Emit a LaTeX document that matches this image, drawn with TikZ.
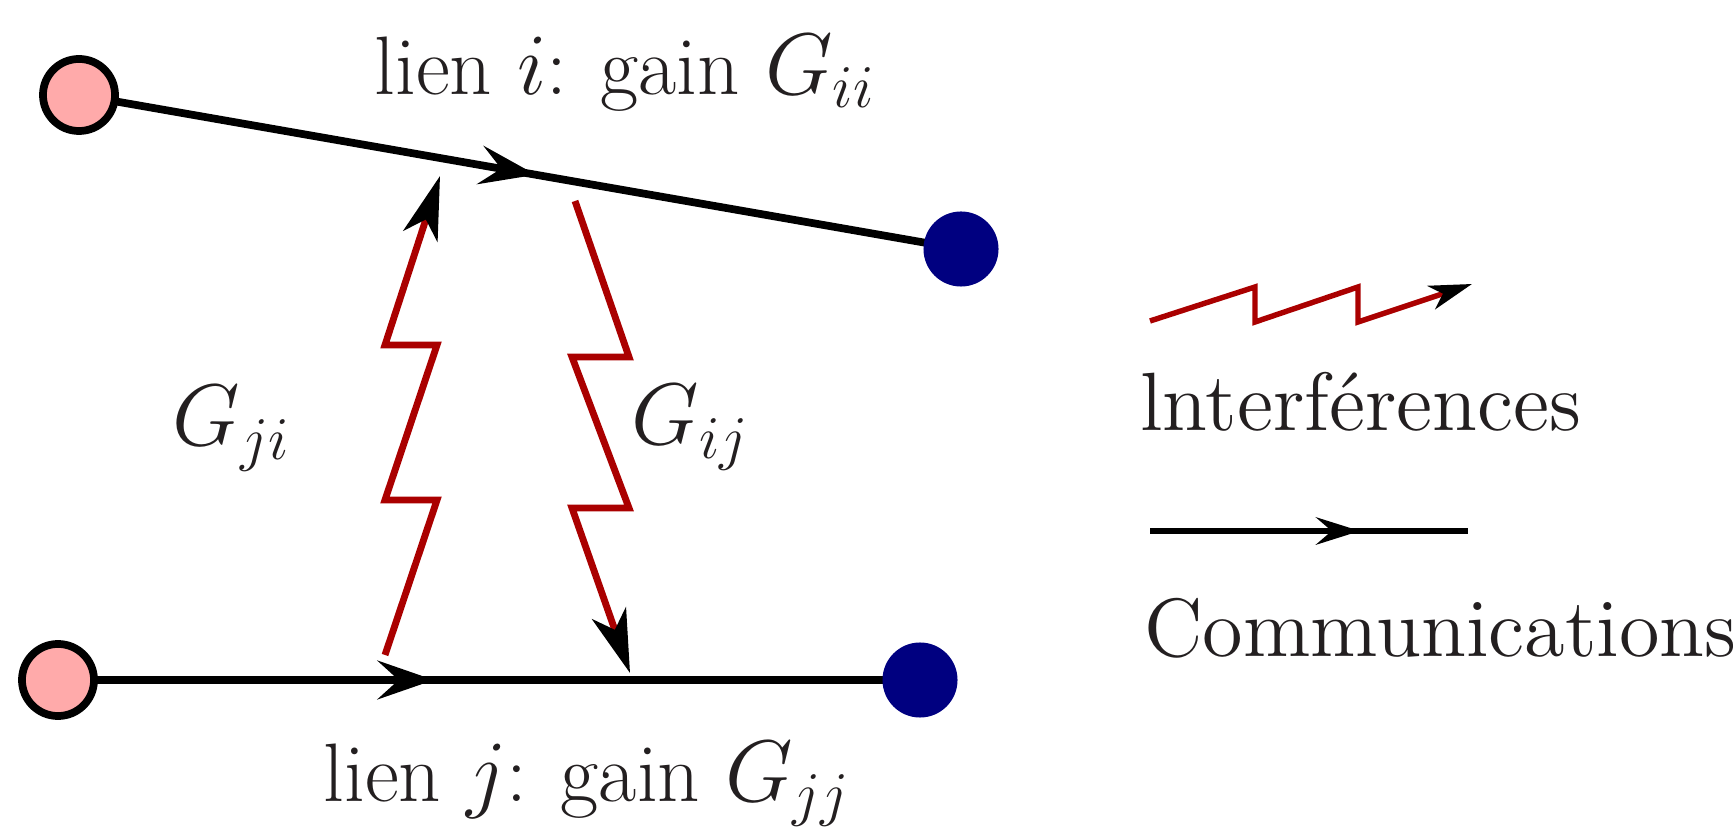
\documentclass[tikz,border=0pt]{standalone}
\usetikzlibrary{arrows.meta,decorations.markings}
\definecolor{pinkfill}{RGB}{255,170,170}
\definecolor{navyfill}{RGB}{0,0,128}
\definecolor{redline}{RGB}{170,0,0}
\definecolor{textcol}{RGB}{35,31,32}
\tikzset{
  mainhead/.tip={Stealth[length=16pt,width=11pt,inset=6pt]},
  zighead/.tip={Stealth[length=18pt,width=10.2pt,inset=5pt,black]},
  leghead/.tip={Stealth[length=12.5pt,width=7.8pt,inset=4.5pt]},
  legzighead/.tip={Stealth[length=12.2pt,width=7pt,inset=3.5pt,black]},
}
\begin{document}
\begin{tikzpicture}[x=0.01cm,y=-0.01cm,
  tx/.style={inner sep=0pt, anchor=base west, text=textcol, font=\fontsize{23.6}{28}\selectfont},
  legtx/.style={inner sep=0pt, anchor=base west, text=textcol, font=\fontsize{12}{14}\selectfont, scale=1.96},
  src/.style={circle, draw=black, line width=2.2pt, fill=pinkfill, minimum size=0.72cm, inner sep=0pt, outer sep=0pt},
  dst/.style={circle, fill=navyfill, minimum size=0.75cm, inner sep=0pt, outer sep=0pt},
  comm/.style={line width=2.2pt, draw=black},
  legcomm/.style={line width=1.7pt, draw=black},
  interf/.style={line width=1.95pt, draw=redline, line join=miter, miter limit=10},
  leginterf/.style={line width=1.55pt, draw=redline, line join=miter, miter limit=10},
  markat/.style 2 args={decoration={markings, mark=at position #1 with {\arrow{#2}}}, postaction={decorate}},
]
\useasboundingbox (0,0) rectangle (1733,834);

% links
\draw[comm, markat={0.518}{mainhead}] (79,95) coordinate (Ac) -- (961,249) coordinate (Bc);
\draw[comm, markat={0.436}{mainhead}] (58,680) coordinate (Cc) -- (920,680) coordinate (Dc);
\node[src] (A) at (Ac) {};
\node[dst] (B) at (Bc) {};
\node[src] (C) at (Cc) {};
\node[dst] (D) at (Dc) {};

% interference zigzags
\coordinate (gjiS) at (385,655);
\draw[interf, -{zighead}] (gjiS) -- ++(52,-155) -- ++(-52,0) -- ++(52,-155) -- ++(-52,0) -- ++(55,-169);
\coordinate (gijS) at (575,201);
\draw[interf, -{zighead}] (gijS) -- ++(54,156) -- ++(-57,0) -- ++(57,151) -- ++(-57,0) -- ++(58,165);

% labels
\node[tx] (li) at (374,94.6) {lien $i$: gain $G_{ii}$};
\node[tx] (lj) at (323,801.7) {lien $j$: gain $G_{jj}$};
\node[tx] (gji) at (172,446) {$G_{ji}$};
\node[tx] (gij) at (631,445) {$G_{ij}$};

% legend
\coordinate (lz) at (1150,321);
\draw[leginterf, -{legzighead}] (lz) -- ++(105,-34) -- ++(0,35) -- ++(103,-35) -- ++(0,35) -- ++(114,-38);
\node[legtx] (lint) at (1139,431) {lnterférences};
\coordinate (lc1) at (1150,531);
\coordinate (lc2) at (1468,531);
\draw[legcomm, markat={0.66}{leghead}] (lc1) -- (lc2);
\node[legtx] (lcom) at (1143,656.7) {Communications};
\end{tikzpicture}
\end{document}
